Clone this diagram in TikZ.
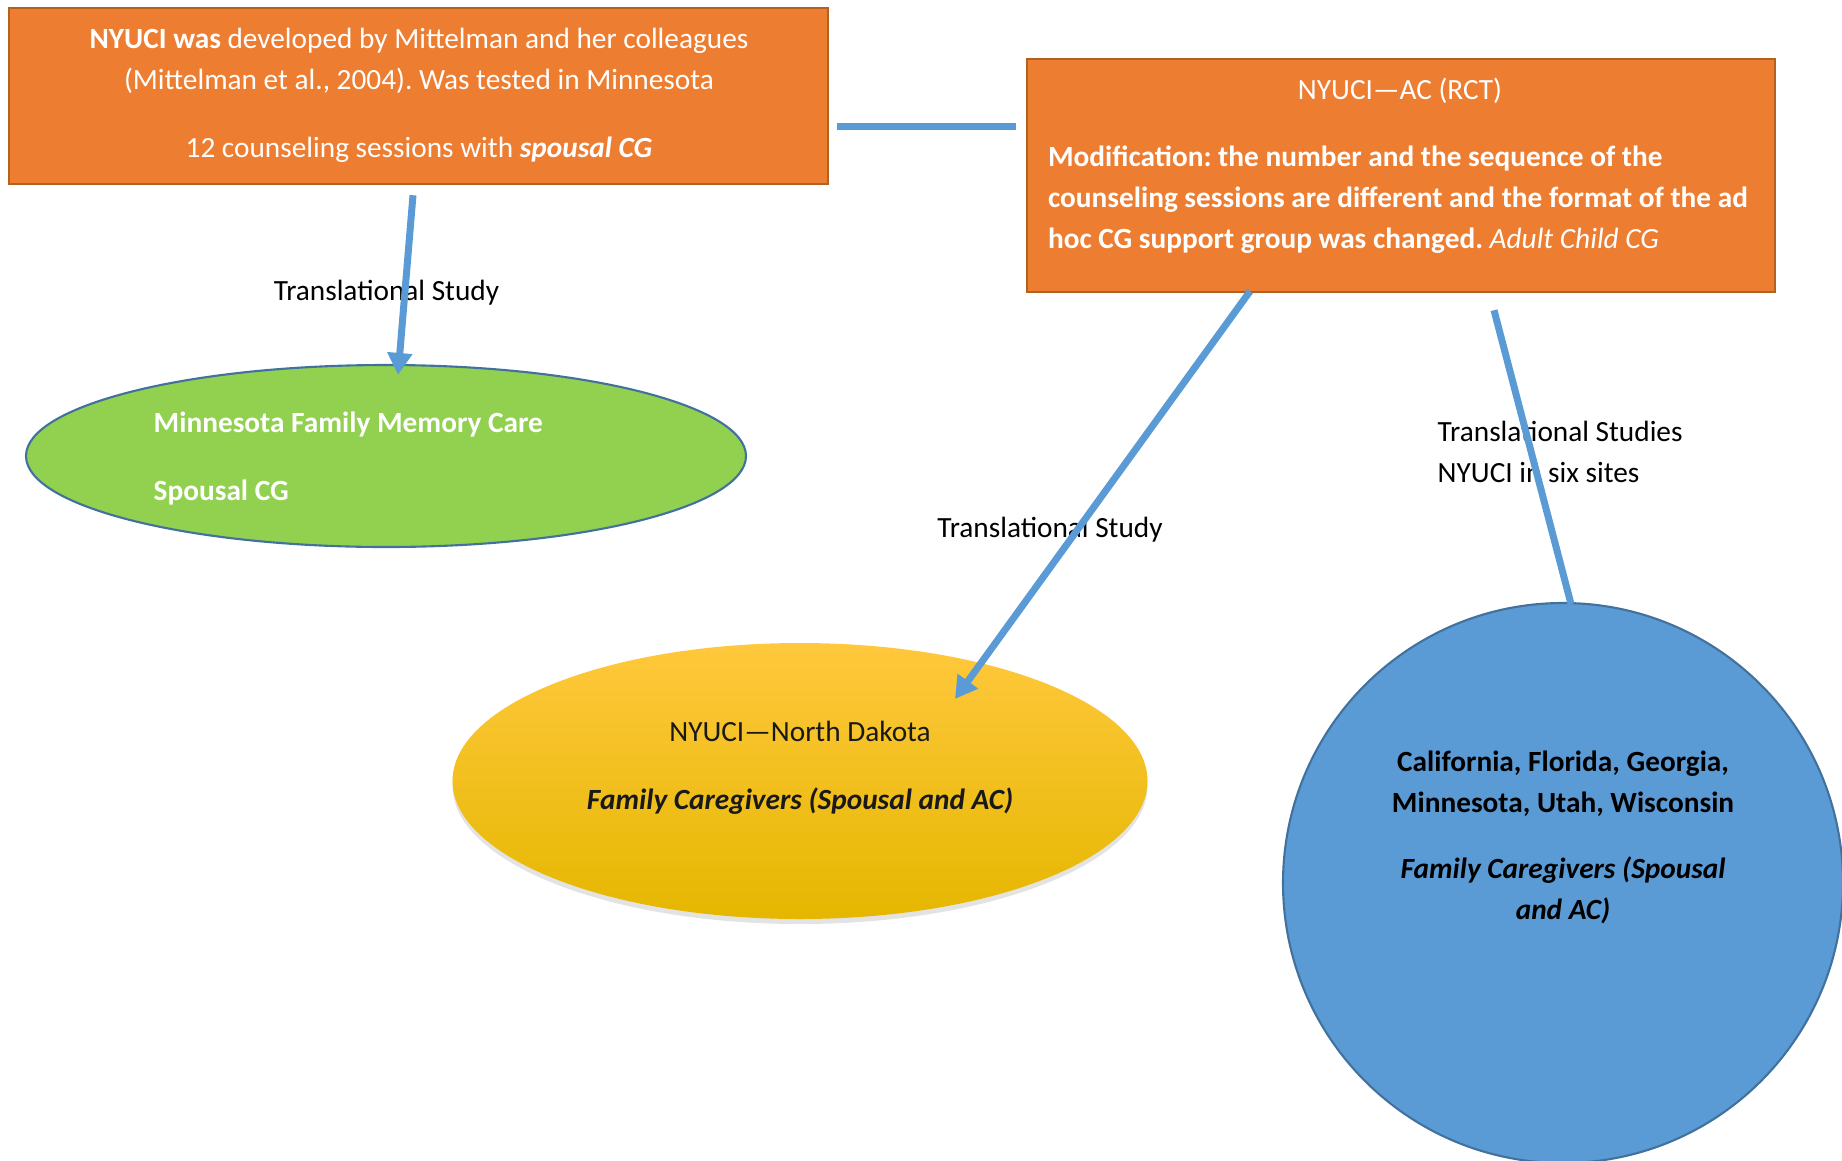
\documentclass[tikz,border=0pt]{standalone}
\usepackage{fontspec}
\setmainfont{Carlito}
\usetikzlibrary{shapes.geometric}
\usetikzlibrary{arrows.meta}
\usetikzlibrary{shadows}

\definecolor{boxorange}{HTML}{ED7D31}
\definecolor{boxedge}{HTML}{B4601F}
\definecolor{lineblue}{HTML}{5B9BD5}
\definecolor{ringblue}{HTML}{41719C}
\definecolor{leafgreen}{HTML}{92D050}
\definecolor{goldtop}{HTML}{FFC83D}
\definecolor{goldmid}{HTML}{FFC000}
\definecolor{goldlow}{HTML}{E5B700}

\begin{document}
\frenchspacing
\begin{tikzpicture}[
    font=\fontsize{8.34}{11.66}\selectfont,
    orangebox/.style={rectangle, draw=boxedge, line width=0.7pt, fill=boxorange, inner sep=0pt},
    oval/.style={ellipse, draw=ringblue, line width=0.6pt, inner sep=0pt},
    words/.style={inner sep=0pt, align=center},
    link/.style={draw=lineblue, line width=0.07cm},
    pointer/.style={-{Triangle[width=0.24cm,length=0.22cm]}},
  ]
    \useasboundingbox (0, 0) rectangle (18.42, -11.60);
    % original study and the adult child RCT
    \node [orangebox, minimum width=8.19cm, minimum height=1.76cm] (orig) at (4.185, -0.96) {};
    \node [orangebox, minimum width=7.48cm, minimum height=2.33cm] (ac) at (14.01, -1.755) {};
    % translations
    \node [oval, fill=leafgreen, minimum width=7.20cm, minimum height=1.82cm] (mn) at (3.86, -4.56) {};
    \node [oval, draw=none, top color=goldtop, middle color=goldmid, bottom color=goldlow,
           minimum width=6.95cm, minimum height=2.76cm,
           drop shadow={shadow xshift=0cm, shadow yshift=-0.05cm, opacity=0.22}] (nd) at (8.00, -7.81) {};
    \node [circle, draw=ringblue, line width=0.6pt, fill=lineblue, minimum size=5.60cm, inner sep=0pt] (site) at (15.63, -8.83) {};
    % texts
    \node [words, text=white] (origtext) at (4.19, -0.95)
        {\textbf{NYUCI was} developed by Mittelman and her colleagues\\
         (Mittelman et al., 2004). Was tested in Minnesota\\[0.27cm]
         12 counseling sessions with \textbf{\textit{spousal CG}}};
    \node [inner sep=0pt, text width=7.10cm, text=white] (actext) at (14.03, -1.655)
        {\spaceskip=0pt\xspaceskip=0pt
         \centering\hspace*{-0.06cm}NYUCI—AC (RCT)\par\vspace{0.26cm}\raggedright
         {\bfseries Modification: the number and the sequence of the\\
         counseling sessions are different and the format of the ad\\
         hoc CG support group was changed.} \textit{Adult Child CG}\par};
    \node [words, align=left, anchor=west, text=white, font=\fontsize{8.34}{11.66}\selectfont\bfseries] (mntext) at (1.53, -4.585)
        {Minnesota Family Memory Care\\[0.27cm] Spousal CG};
    \node [words, text=black!90] (ndtext) at (8.00, -7.675)
        {NYUCI—North Dakota\\[0.27cm] \textbf{\textit{Family Caregivers (Spousal and AC)}}};
    \node [words, align=flush center, text width=5.4cm, font=\fontsize{8.34}{11.66}\selectfont\bfseries] (sitetext) at (15.63, -8.37)
        {\spaceskip=0pt\xspaceskip=0pt
         California, Florida, Georgia,\\ Minnesota, Utah, Wisconsin\\[0.25cm]
         \itshape Family Caregivers (Spousal\\ and AC)};
    % connector labels
    \node [words] (lab1) at (3.865, -2.925) {Translational Study};
    \node [words] (lab2) at (10.50, -5.30) {Translational Study};
    \node [words, align=left, anchor=west] (lab3) at (14.37, -4.52) {Translational Studies\\ NYUCI in six sites};
    % connectors
    \draw [link] ([shift={(0.08,-0.30)}]orig.east) to ([shift={(-0.10,0.495)}]ac.west);
    \draw [link, pointer] ([shift={(-0.055,-0.10)}]orig.south) to ([shift={(0.12,-0.11)}]mn.north);
    \draw [link, pointer] ([shift={(-1.51,0.02)}]ac.south) to ([shift={(1.55,-0.57)}]nd.north);
    \draw [link] ([shift={(0.93,-0.17)}]ac.south) to ([shift={(0.08,-0.02)}]site.north);
\end{tikzpicture}
\end{document}
